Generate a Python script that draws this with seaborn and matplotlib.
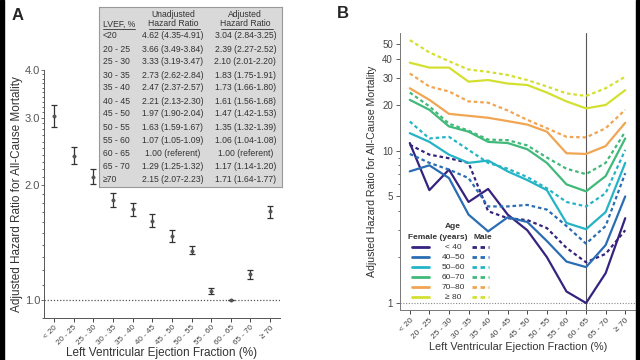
import numpy as np
import pandas as pd
import matplotlib
matplotlib.use("Agg")
import matplotlib.pyplot as plt
import seaborn as sns
from matplotlib.ticker import FixedLocator, NullFormatter
from matplotlib.patches import Rectangle

# --- panel A data: LVEF categories and hazard ratios ---
lvef_labels = ["< 20", "20 - 25", "25 - 30", "30 - 35", "35 - 40", "40 - 45",
               "45 - 50", "50 - 55", "55 - 60", "60 - 65", "65 - 70", "\u2265 70"]
table_lvef = ["<20", "20 - 25", "25 - 30", "30 - 35", "35 - 40", "40 - 45",
              "45 - 50", "50 - 55", "55 - 60", "60 - 65", "65 - 70", "\u226570"]
unadj_hr = [4.62, 3.66, 3.33, 2.73, 2.47, 2.21, 1.97, 1.63, 1.07, 1.00, 1.29, 2.15]
unadj_lo = [4.35, 3.49, 3.19, 2.62, 2.37, 2.13, 1.90, 1.59, 1.05, 1.00, 1.25, 2.07]
unadj_hi = [4.91, 3.84, 3.47, 2.84, 2.57, 2.30, 2.04, 1.67, 1.09, 1.00, 1.32, 2.23]
adj_hr = [3.04, 2.39, 2.10, 1.83, 1.73, 1.61, 1.47, 1.35, 1.06, 1.00, 1.17, 1.71]
adj_lo = [2.84, 2.27, 2.01, 1.75, 1.66, 1.56, 1.42, 1.32, 1.04, 1.00, 1.14, 1.64]
adj_hi = [3.25, 2.52, 2.20, 1.91, 1.80, 1.68, 1.53, 1.39, 1.08, 1.00, 1.20, 1.77]
ref_idx = 9

# --- panel B data: adjusted HR by age group and sex ---
age_groups = ["< 40", "40\u201350", "50\u201360", "60\u201370", "70\u201380", "\u2265 80"]
age_colors = ["#36237f", "#2a6db3", "#24b4c6", "#41b97a", "#f0a552", "#d4e030"]
f_lt40 = [11.2, 5.5, 7.5, 4.6, 5.6, 3.8, 3.0, 2.0, 1.19, 1.0, 1.57, 3.6]
m_lt40 = [10.9, 9.4, 8.9, 8.3, 4.0, 3.6, 3.5, 3.1, 2.3, 1.85, 2.1, 3.0]
f_40_50 = [7.3, 8.0, 6.6, 3.8, 2.95, 3.65, 3.4, 2.55, 1.87, 1.72, 2.4, 5.0]
m_40_50 = [9.5, 8.3, 7.5, 6.6, 4.3, 4.3, 4.4, 4.1, 3.2, 2.45, 3.2, 7.1]
f_50_60 = [13.0, 11.4, 9.4, 8.3, 8.6, 7.3, 6.4, 5.5, 3.35, 3.05, 3.95, 8.3]
m_50_60 = [15.5, 12.0, 12.3, 10.1, 8.3, 7.6, 6.7, 5.65, 4.6, 4.3, 5.25, 10.1]
f_60_70 = [21.5, 18.5, 14.4, 13.3, 11.4, 11.2, 10.2, 8.3, 6.0, 5.4, 6.8, 12.0]
m_60_70 = [24.0, 19.5, 15.0, 13.5, 11.8, 11.7, 10.8, 9.0, 7.6, 7.0, 8.3, 13.3]
f_70_80 = [25.6, 21.5, 17.4, 16.9, 16.4, 15.6, 14.8, 13.3, 9.6, 9.5, 10.7, 15.2]
m_70_80 = [32.0, 26.3, 24.4, 21.0, 20.6, 18.3, 15.9, 14.0, 12.3, 12.2, 14.0, 18.5]
f_ge80 = [37.7, 35.0, 35.0, 28.3, 29.0, 27.5, 26.9, 24.0, 21.0, 18.9, 19.9, 24.9]
m_ge80 = [53.0, 44.0, 38.5, 34.0, 32.8, 31.3, 29.0, 26.3, 23.7, 22.8, 25.6, 30.5]

female_series = [f_lt40, f_40_50, f_50_60, f_60_70, f_70_80, f_ge80]
male_series = [m_lt40, m_40_50, m_50_60, m_60_70, m_70_80, m_ge80]

sns.set_style("ticks")
plt.rcParams['font.family'] = ['Liberation Sans', 'DejaVu Sans']

fig = plt.figure(figsize=(6.4, 3.6), dpi=100)
pos = np.arange(len(lvef_labels))

# black side strips of the original slide
fig.patches.append(Rectangle((0, 0), 4 / 640, 1, transform=fig.transFigure, color='black'))
fig.patches.append(Rectangle((636 / 640, 0), 4 / 640, 1, transform=fig.transFigure, color='black'))

# ---------------- Panel A ----------------
axA = fig.add_axes([44 / 640, 42 / 360, 236 / 640, 248 / 360])
axA.set_yscale('log')
axA.axhline(1.0, ls=(0, (1, 1.5)), color='#555555', lw=0.9, zorder=1)
yerr = [np.array(adj_hr) - np.array(adj_lo), np.array(adj_hi) - np.array(adj_hr)]
axA.errorbar(pos, adj_hr, yerr=yerr, fmt='none', ecolor='#333333', elinewidth=0.9,
             capsize=2.5, capthick=0.9, zorder=2)
sns.scatterplot(x=pos, y=adj_hr, ax=axA, color='#555555', s=6, edgecolor='#444444',
                linewidth=0.3, zorder=3)
axA.set_xlim(-0.5, 11.5)
axA.set_ylim(0.9, 4.0)
axA.yaxis.set_major_locator(FixedLocator([1.0, 2.0, 3.0, 4.0]))
axA.set_yticklabels(["1.0", "2.0", "3.0", "4.0"])
axA.yaxis.set_minor_locator(FixedLocator(np.arange(0.9, 4.0, 0.1)))
axA.yaxis.set_minor_formatter(NullFormatter())
axA.set_xticks(pos)
axA.set_xticklabels(lvef_labels, rotation=45, ha='right', rotation_mode='anchor', fontsize=5.8,
                    color='#444444')
axA.tick_params(axis='y', labelsize=8, colors='#555555', length=2, width=0.6, pad=0.8)
axA.tick_params(axis='y', which='minor', length=1.2, width=0.5)
axA.tick_params(axis='x', length=3, width=0.6, pad=1.5)
for s in ['top', 'right']:
    axA.spines[s].set_visible(False)
for s in ['left', 'bottom']:
    axA.spines[s].set_color('#555555')
    axA.spines[s].set_linewidth(0.7)
axA.set_xlabel("Left Ventricular Ejection Fraction (%)", fontsize=8.5, color='#333333', labelpad=0)
axA.set_ylabel("Adjusted Hazard Ratio for All-Cause Mortality", fontsize=8.5, color='#333333')
axA.yaxis.set_label_coords(-0.088, 0.5)

# table inset
tab = fig.add_axes([99 / 640, 1 - 187 / 360, 183 / 640, 180 / 360])
tab.set_facecolor('#d9d9d9')
tab.set_xlim(0, 1)
tab.set_ylim(0, 1)
tab.set_xticks([])
tab.set_yticks([])
for s in tab.spines.values():
    s.set_color('#999999')
    s.set_linewidth(0.8)
tkw = dict(fontsize=6.2, color='#333333', va='center')
tab.text(0.404, 0.961, "Unadjusted", ha='center', **tkw)
tab.text(0.404, 0.906, "Hazard Ratio", ha='center', **tkw)
tab.text(0.80, 0.961, "Adjusted", ha='center', **tkw)
tab.text(0.80, 0.906, "Hazard Ratio", ha='center', **tkw)
tab.text(0.022, 0.906, "LVEF, %", ha='left', **tkw)
for x0, x1 in [(0.022, 0.197), (0.273, 0.552), (0.667, 0.951)]:
    tab.plot([x0, x1], [0.88, 0.88], color='#333333', lw=0.6)
for i, lab in enumerate(table_lvef):
    fy = 1 - (29 + 13 * i) / 180
    if i == ref_idx:
        u_txt = "1.00 (referent)"
        a_txt = "1.00 (referent)"
    else:
        u_txt = f"{unadj_hr[i]:.2f} ({unadj_lo[i]:.2f}-{unadj_hi[i]:.2f})"
        a_txt = f"{adj_hr[i]:.2f} ({adj_lo[i]:.2f}-{adj_hi[i]:.2f})"
    tab.text(0.022, fy, lab, ha='left', **tkw)
    tab.text(0.404, fy, u_txt, ha='center', **tkw)
    tab.text(0.80, fy, a_txt, ha='center', **tkw)

# ---------------- Panel B ----------------
rows = []
for age, f_vals, m_vals in zip(age_groups, female_series, male_series):
    for i in range(len(lvef_labels)):
        rows.append({'pos': pos[i], 'hr': f_vals[i], 'age': age, 'sex': 'Female'})
        rows.append({'pos': pos[i], 'hr': m_vals[i], 'age': age, 'sex': 'Male'})
df_b = pd.DataFrame(rows)

axB = fig.add_axes([400 / 640, 50 / 360, 236 / 640, 277 / 360])
axB.set_yscale('log')
axB.axhline(1.0, ls=(0, (1, 1.5)), color='#888888', lw=0.8, zorder=1)
axB.axvline(ref_idx, color='#555555', lw=0.8, zorder=1)
sns.lineplot(data=df_b, x='pos', y='hr', hue='age', style='sex', hue_order=age_groups,
             palette=dict(zip(age_groups, age_colors)),
             dashes={'Female': '', 'Male': (1.6, 1.3)}, lw=1.6, sort=False,
             errorbar=None, legend=False, ax=axB)
axB.set_xlim(-0.5, 11.55)
axB.set_ylim(0.9, 59)
axB.yaxis.set_major_locator(FixedLocator([1, 5, 10, 20, 30, 40, 50]))
axB.set_yticklabels(["1", "5", "10", "20", "30", "40", "50"])
axB.yaxis.set_minor_locator(FixedLocator([2, 3, 4, 6, 7, 8, 9]))
axB.yaxis.set_minor_formatter(NullFormatter())
axB.set_xticks(pos)
axB.set_xticklabels(lvef_labels, rotation=45, ha='right', rotation_mode='anchor', fontsize=6,
                    color='#444444')
axB.tick_params(axis='y', labelsize=7, colors='#444444', length=3, width=0.6, pad=2)
axB.tick_params(axis='y', which='minor', length=1.5, width=0.5)
axB.tick_params(axis='x', length=3, width=0.6, pad=2)
for s in ['top', 'right']:
    axB.spines[s].set_visible(False)
for s in ['left', 'bottom']:
    axB.spines[s].set_color('#777777')
    axB.spines[s].set_linewidth(0.7)
axB.set_xlabel("Left Ventricular Ejection Fraction (%)", fontsize=7.8, color='#333333', labelpad=1)
axB.set_ylabel("Adjusted Hazard Ratio for All-Cause Mortality", fontsize=7.6, color='#333333',
               labelpad=4)

# hand-made legend: female solid | age label | male dashed
lkw = dict(transform=axB.transAxes, fontsize=6, color='#333333', ha='center', va='center')
axB.text(0.225, 0.300, "Age", fontweight='bold', **lkw)
axB.text(0.159, 0.260, "Female (years)", fontweight='bold', **lkw)
axB.text(0.350, 0.260, "Male", fontweight='bold', **lkw)
for k, (age, col) in enumerate(zip(age_groups, age_colors)):
    fy = 0.227 - k * 0.0361
    axB.plot([0.051, 0.123], [fy, fy], transform=axB.transAxes, color=col, lw=2)
    axB.plot([0.305, 0.377], [fy, fy], transform=axB.transAxes, color=col, lw=2,
             ls=(0, (1.6, 1.3)))
    axB.text(0.225, fy, age, **lkw)

fig.text(12 / 640, 1 - 16 / 360, "A", fontsize=12, fontweight='bold', va='center')
fig.text(337 / 640, 1 - 14 / 360, "B", fontsize=12, fontweight='bold', va='center')

fig.savefig("out.png", dpi=100)
